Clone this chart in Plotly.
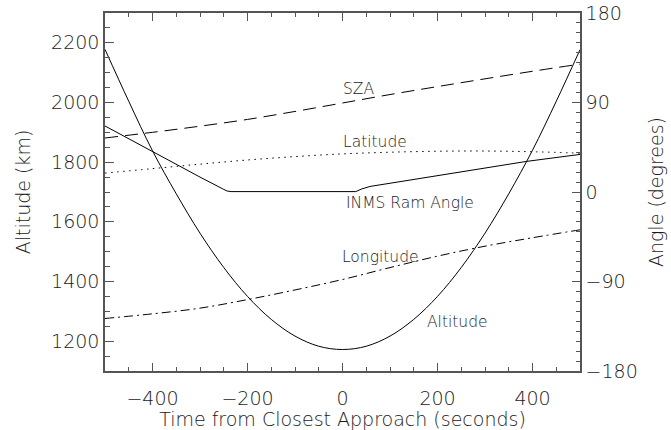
import plotly.graph_objects as go

# Time axis (seconds from closest approach)
t_alt = list(range(-500, 501, 50))
altitude_km = [2178, 2004, 1838, 1694, 1562, 1447, 1350, 1273, 1217, 1183, 1172,
               1183, 1217, 1273, 1350, 1447, 1562, 1694, 1840, 2004, 2177]

t_geo = list(range(-500, 501, 100))
sza_deg = [54.3, 60.0, 66.2, 73.0, 81.0, 89.5, 98.0, 106.0, 113.8, 121.4, 128.6]
latitude_deg = [19.0, 23.5, 28.0, 32.2, 35.6, 38.3, 40.0, 41.0, 41.2, 40.5, 39.0]
longitude_deg = [-127.2, -122.5, -116.8, -108.2, -98.5, -88.0, -76.0, -64.5, -54.5, -46.0, -38.0]

t_ram = [-500, -400, -300, -250, -243, -235, 28, 40, 58, 100, 200, 300, 388, 500]
ram_angle_deg = [66.4, 40.5, 15.0, 2.6, 1.0, 0.4, 0.4, 3.0, 5.6, 8.8, 16.5, 24.0, 30.8, 37.8]

# Curve labels: (text, time, angle)
label_text = ["SZA", "Latitude", "INMS Ram Angle", "Longitude", "Altitude"]
label_t = [33, 68, 142, 81, 243]
label_ang = [103.4, 49.9, -10.6, -65.0, -130.6]

FONT = "DejaVu Sans"
AX = "#555555"
TXT = "#1a1a1a"

fig = go.Figure()
line = dict(color="black", width=1)

fig.add_trace(go.Scatter(x=t_alt, y=altitude_km, mode="lines", yaxis="y",
                         line=dict(line, shape="spline"), name="Altitude"))
fig.add_trace(go.Scatter(x=t_geo, y=sza_deg, mode="lines", yaxis="y2",
                         line=dict(line, shape="spline", dash="13px,7px"), name="SZA"))
fig.add_trace(go.Scatter(x=t_geo, y=latitude_deg, mode="lines", yaxis="y2",
                         line=dict(line, shape="spline", dash="1.5px,4.5px"), name="Latitude"))
fig.add_trace(go.Scatter(x=t_geo, y=longitude_deg, mode="lines", yaxis="y2",
                         line=dict(line, shape="spline", dash="9px,4px,2px,4px"), name="Longitude"))
fig.add_trace(go.Scatter(x=t_ram, y=ram_angle_deg, mode="lines", yaxis="y2",
                         line=line, name="INMS Ram Angle"))

for txt, tx, ang in zip(label_text, label_t, label_ang):
    fig.add_annotation(x=tx, y=ang, xref="x", yref="y2", text=txt, showarrow=False,
                       font=dict(family=FONT, size=15.5, color=TXT, weight=200),
                       xanchor="center", yanchor="middle")

tickfont = dict(family=FONT, size=19, color=TXT, weight=200)
titlefont = dict(family=FONT, size=19, color=TXT, weight=200)

fig.update_layout(
    width=671, height=430,
    margin=dict(l=105, r=91, t=13, b=59),
    paper_bgcolor="white", plot_bgcolor="white",
    showlegend=False,
    xaxis=dict(
        range=[-500, 500], tickvals=[-400, -200, 0, 200, 400],
        ticks="inside", ticklen=8, tickwidth=1, tickcolor=AX,
        minor=dict(dtick=50, tick0=0, ticks="inside", ticklen=4, tickwidth=1, tickcolor=AX),
        showline=True, linecolor=AX, linewidth=1.5, mirror="ticks",
        showgrid=False, zeroline=False, tickfont=tickfont, ticklabelstandoff=9,
        automargin=False,
        title=dict(text="Time from Closest Approach (seconds)", font=titlefont, standoff=1),
    ),
    yaxis=dict(
        range=[1100, 2300], tickvals=[1200, 1400, 1600, 1800, 2000, 2200],
        ticks="inside", ticklen=9, tickwidth=1, tickcolor=AX,
        minor=dict(dtick=50, tick0=0, ticks="inside", ticklen=5, tickwidth=1, tickcolor=AX),
        showline=True, linecolor=AX, linewidth=1.5,
        showgrid=False, zeroline=False, tickfont=tickfont, automargin=False,
        title=dict(text="Altitude (km)", font=titlefont, standoff=15),
    ),
    yaxis2=dict(
        overlaying="y", side="right", anchor="x",
        range=[-180, 180], tickvals=[-180, -90, 0, 90, 180],
        ticks="inside", ticklen=8, tickwidth=1, tickcolor=AX,
        minor=dict(dtick=10, tick0=0, ticks="inside", ticklen=4, tickwidth=1, tickcolor=AX),
        showline=True, linecolor=AX, linewidth=1.5,
        showgrid=False, zeroline=False, tickfont=tickfont, automargin=False,
        title=dict(text="Angle (degrees)", font=titlefont, standoff=13),
    ),
)

fig.write_html("out.html")
